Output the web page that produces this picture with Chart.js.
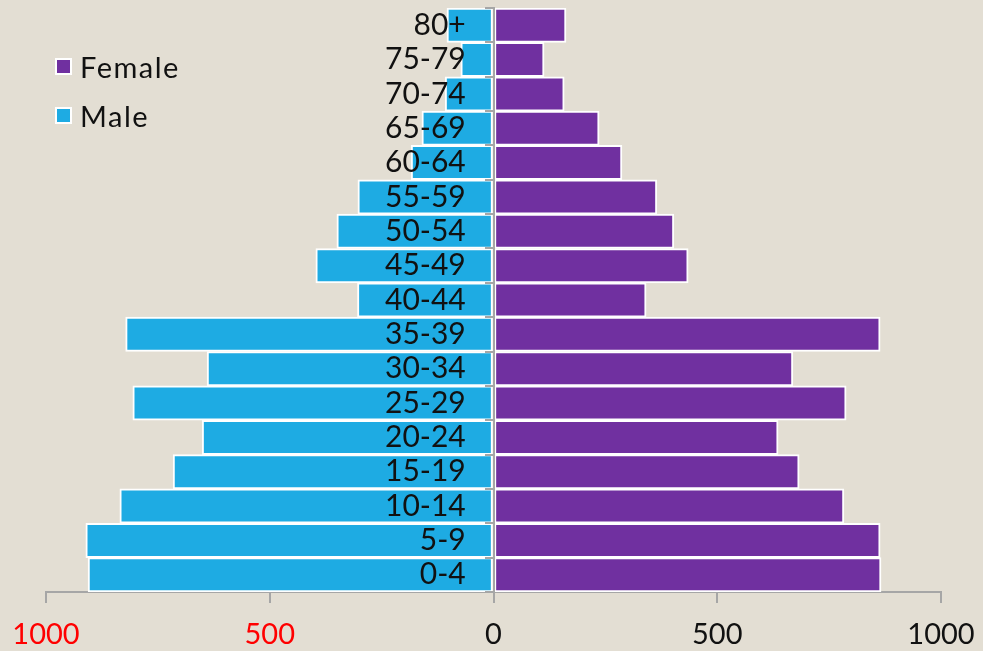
<!DOCTYPE html>
<html>
<head>
<meta charset="utf-8">
<script src="https://cdn.jsdelivr.net/npm/chart.js@4.4.1/dist/chart.umd.min.js"></script>
<style>
  html, body { margin: 0; padding: 0; background: #e3ded3; }
  #wrap { position: relative; width: 983px; height: 651px; }
  canvas { display: block; }
  .legend { position: absolute; left: 55px; font-family: Lato, "DejaVu Sans", sans-serif; font-size: 29px; letter-spacing: 1.5px; color: #111; }
  .legend div { display: flex; align-items: center; height: 49px; }
  .legend span.sw { width: 13px; height: 13px; border: 2px solid #fff; margin-right: 8px; display: inline-block; }
</style>
</head>
<body>
<div id="wrap">
  <canvas id="c" width="983" height="651"></canvas>
  <div class="legend" id="legend" style="top:42px"></div>
</div>
<script>
// Age groups, oldest at the top
const ageGroups = ['80+', '75-79', '70-74', '65-69', '60-64', '55-59', '50-54', '45-49', '40-44',
                   '35-39', '30-34', '25-29', '20-24', '15-19', '10-14', '5-9', '0-4'];
const femaleCounts = [162, 113, 158, 236, 287, 365, 403, 435, 341, 864, 669, 788, 636, 683, 783, 864, 866];
const maleCounts   = [104, 73, 108, 160, 184, 303, 350, 397, 304, 822, 640, 806, 651, 716, 835, 911, 906];
const xTickValues  = [-1000, -500, 0, 500, 1000];

const FEMALE_COLOR = '#7030a0';
const MALE_COLOR = '#1eabe3';
const FONT = 'Lato, "DejaVu Sans", sans-serif';

// Legend
const legendItems = [['Female', FEMALE_COLOR], ['Male', MALE_COLOR]];
const legendEl = document.getElementById('legend');
legendItems.forEach(([name, color]) => {
  const row = document.createElement('div');
  const sw = document.createElement('span');
  sw.className = 'sw';
  sw.style.background = color;
  row.appendChild(sw);
  row.appendChild(document.createTextNode(name));
  legendEl.appendChild(row);
});

// Axes here must not reserve any room beyond the layout padding
const noPadding = s => { s.paddingTop = 0; s.paddingBottom = 0; s.paddingLeft = 0; s.paddingRight = 0; };

new Chart(document.getElementById('c'), {
  type: 'bar',
  data: {
    labels: ageGroups,
    datasets: [
      {
        label: 'Female',
        data: femaleCounts,
        backgroundColor: FEMALE_COLOR,
        borderColor: '#ffffff',
        borderWidth: 2,
        borderSkipped: false,
        barPercentage: 1,
        categoryPercentage: 1
      },
      {
        label: 'Male',
        data: maleCounts.map(v => -v),
        backgroundColor: MALE_COLOR,
        borderColor: '#ffffff',
        borderWidth: 2,
        borderSkipped: false,
        barPercentage: 1,
        categoryPercentage: 1
      }
    ]
  },
  options: {
    indexAxis: 'y',
    responsive: false,
    animation: false,
    layout: { padding: { left: 46, right: 42, top: 8, bottom: 0 } },
    plugins: {
      legend: { display: false },
      tooltip: { enabled: false }
    },
    scales: {
      x: {
        type: 'linear',
        stacked: true,
        min: -1000,
        max: 1000,
        afterBuildTicks: axis => { axis.ticks = xTickValues.map(v => ({ value: v })); },
        afterFit: s => { noPadding(s); s.height = 59; },
        border: { color: '#a6a6a6', width: 2 },
        grid: { drawOnChartArea: false, color: '#a6a6a6', tickLength: 11, lineWidth: 2 },
        ticks: {
          padding: 14,
          font: { family: FONT, size: 29 },
          color: ctx => (ctx.tick && ctx.tick.value < 0 ? '#ff0000' : '#111111'),
          callback: v => String(Math.abs(v))
        }
      },
      // axis line and tick marks at zero
      y: {
        stacked: true,
        position: { x: 0 },
        afterFit: noPadding,
        border: { color: '#a6a6a6', width: 2, z: 1 },
        grid: { drawOnChartArea: false, color: '#a6a6a6', tickLength: 8, lineWidth: 2, z: 1 },
        ticks: { display: false }
      },
      // age-group labels, set a little to the left of the zero line
      yLabels: {
        type: 'category',
        labels: ageGroups,
        offset: true,
        position: { x: -62 },
        afterFit: noPadding,
        border: { display: false },
        grid: { display: false },
        ticks: {
          z: 1,
          autoSkip: false,
          font: { family: FONT, size: 30 },
          color: '#111111'
        }
      }
    }
  }
});
</script>
</body>
</html>
